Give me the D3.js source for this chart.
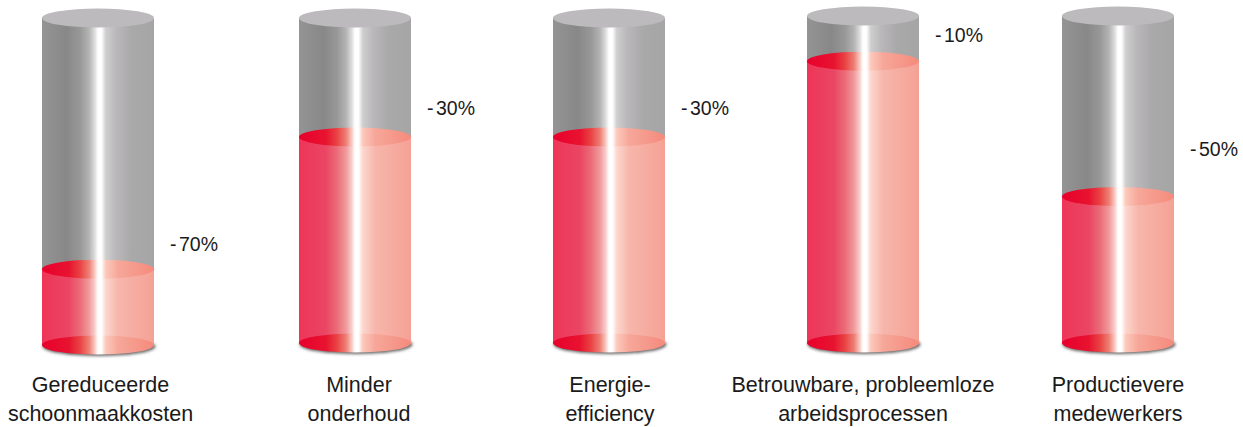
<!DOCTYPE html>
<html>
<head>
<meta charset="utf-8">
<script src="https://cdn.jsdelivr.net/npm/d3@7"></script>
<style>
  html, body { margin: 0; padding: 0; background: #fff; }
  svg { display: block; }
  text { font-family: "Liberation Sans", Arial, sans-serif; fill: #1a1a1a; }
</style>
</head>
<body>
<div id="chart"></div>
<script>
// data
var categories = ["clean", "maintenance", "energy", "reliable", "staff"];
var nameLines = [
  ["Gereduceerde", "schoonmaakkosten"],
  ["Minder", "onderhoud"],
  ["Energie-", "efficiency"],
  ["Betrouwbare, probleemloze", "arbeidsprocessen"],
  ["Productievere", "medewerkers"]
];
var changeLabels = ["-70%", "-30%", "-30%", "-10%", "-50%"];
// red fill as drawn, in percent of cylinder height (not the same as the label)
var fillPercent = [23.2, 63.4, 63.4, 86.2, 44.8];

var width = 1243, height = 427;
var cylW = 112, ry = 9.5;

var svg = d3.select("#chart").append("svg")
  .attr("width", width)
  .attr("height", height);

var x = d3.scaleOrdinal().domain(categories).range([98, 355, 609, 863, 1118]);
// names are not quite centred under their cylinders
var nameX = d3.scaleOrdinal().domain(categories).range([100.5, 359, 610, 863, 1118]);
// the cylinders do not all start at the same height
var topY = d3.scaleOrdinal().domain(categories).range([18, 18, 18, 16, 16]);
var bottomY = d3.scaleOrdinal().domain(categories).range([345, 343, 343, 343, 343]);
// the change labels are placed by hand in the original, they don't follow the fill
var labelY = d3.scaleOrdinal().domain(categories).range([251, 115, 115, 42, 156]);

var defs = svg.append("defs");

function addGradient(id, stops) {
  var g = defs.append("linearGradient").attr("id", id)
    .attr("x1", "0").attr("x2", "1").attr("y1", "0").attr("y2", "0");
  stops.forEach(function(s) {
    g.append("stop").attr("offset", s[0] + "%").attr("stop-color", s[1]);
  });
}
addGradient("grayBody", [[0, "#949494"], [22, "#888888"], [34, "#989898"], [42, "#b4b4b4"], [47, "#dcdcdc"], [50, "#ffffff"], [53, "#ffffff"], [57, "#cfcecf"], [66, "#bab8ba"], [80, "#aaa9aa"], [100, "#a5a5a5"]]);
addGradient("redBody", [[0, "#ee3558"], [24, "#ea4663"], [34, "#eb6c78"], [42, "#f09a9c"], [47, "#f8cdcb"], [50, "#ffffff"], [53, "#ffffff"], [57, "#fcd6ce"], [68, "#f7b6ab"], [100, "#f5a195"]]);
addGradient("redTop", [[0, "#e8002c"], [24, "#e81330"], [34, "#e94343"], [42, "#ee7f75"], [47, "#f8c8c0"], [50, "#ffffff"], [53, "#ffffff"], [57, "#fcc8bb"], [68, "#f6a799"], [100, "#f58a7c"]]);

defs.append("filter").attr("id", "blur")
  .attr("x", "-10%").attr("y", "-40%").attr("width", "120%").attr("height", "180%")
  .append("feGaussianBlur").attr("stdDeviation", 1.6);

categories.forEach(function(cat, i) {
  var cx = x(cat);
  var y = d3.scaleLinear().domain([0, 100]).range([bottomY(cat), topY(cat)]);
  var g = svg.append("g").attr("class", "cylinder");
  var left = cx - cylW / 2;

  // shadow under the base
  g.append("ellipse")
    .attr("cx", cx + 1).attr("cy", y(0) + 1.5)
    .attr("rx", cylW / 2 + 0.5).attr("ry", ry)
    .attr("fill", "#666")
    .attr("filter", "url(#blur)");

  // grey tube
  g.append("rect")
    .attr("x", left).attr("y", y(100))
    .attr("width", cylW).attr("height", y(0) - y(100))
    .attr("fill", "url(#grayBody)");
  g.append("ellipse")
    .attr("cx", cx).attr("cy", y(100))
    .attr("rx", cylW / 2).attr("ry", ry)
    .attr("fill", "#bcbabc");

  // red fill
  g.append("rect")
    .attr("x", left).attr("y", y(fillPercent[i]))
    .attr("width", cylW).attr("height", y(0) - y(fillPercent[i]))
    .attr("fill", "url(#redBody)");
  g.append("ellipse")
    .attr("cx", cx).attr("cy", y(0))
    .attr("rx", cylW / 2).attr("ry", ry)
    .attr("fill", "url(#redTop)");
  g.append("ellipse")
    .attr("cx", cx).attr("cy", y(fillPercent[i]))
    .attr("rx", cylW / 2).attr("ry", ry)
    .attr("fill", "url(#redTop)");

  // change label, with the small gap after the minus sign
  var label = g.append("text")
    .attr("x", left + cylW + 16)
    .attr("y", labelY(cat))
    .attr("font-size", 19.5);
  label.append("tspan").text(changeLabels[i].slice(0, 1));
  label.append("tspan").attr("dx", 2.5).text(changeLabels[i].slice(1));

  nameLines[i].forEach(function(line, k) {
    g.append("text")
      .attr("x", nameX(cat))
      .attr("y", 392 + k * 29)
      .attr("text-anchor", "middle")
      .attr("font-size", 21.5)
      .text(line);
  });
});
</script>
</body>
</html>
